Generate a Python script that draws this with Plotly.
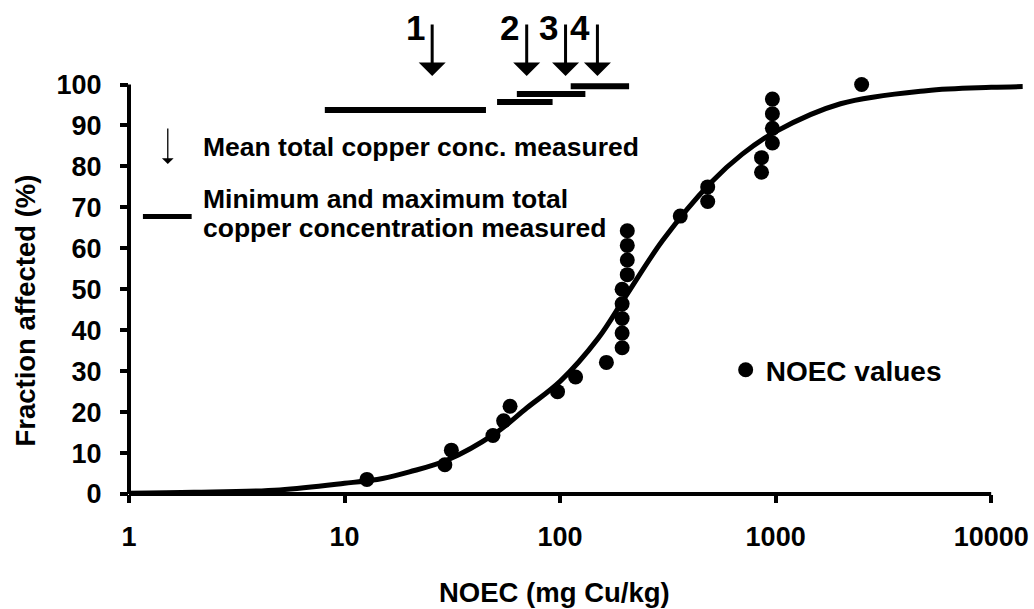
import math
import plotly.graph_objects as go

# ---------------- data ----------------
noec_x = [12.7, 29.2, 31.3, 48.8, 54.7, 58.6, 97.3, 118, 164, 194, 194, 194, 194, 194,
          205, 205, 205, 205, 361, 484, 484, 860, 860, 966, 966, 966, 966, 2506]
noec_y = [3.57, 7.14, 10.71, 14.29, 17.86, 21.43, 25.0, 28.57, 32.14, 35.71, 39.29, 42.86,
          46.43, 50.0, 53.57, 57.14, 60.71, 64.29, 67.86, 71.43, 75.0, 78.57, 82.14, 85.71,
          89.29, 92.86, 96.43, 100.0]

curve_x = [1, 2, 5, 10, 15, 20, 30, 50, 70, 100, 150, 200, 300, 500, 700, 1000, 2000, 5000, 10000, 14000]
curve_y = [0.2, 0.4, 1.0, 2.6, 3.8, 5.4, 8.3, 14.8, 21.0, 27.5, 38.0, 48.0, 62.0, 76.0, 83.0, 88.5,
           95.3, 98.5, 99.3, 99.5]

study_labels = ["1", "2", "3", "4"]
study_mean = [25.5, 70, 106, 149]
study_min = [8.1, 51, 63, 112]
study_max = [45.3, 92.3, 131, 209]
study_bar_y = [93.8, 95.7, 97.7, 99.6]

x_tick_vals = [1, 10, 100, 1000, 10000]
x_tick_text = ["1", "10", "100", "1000", "10000"]
y_tick_vals = [0, 10, 20, 30, 40, 50, 60, 70, 80, 90, 100]

# ---------------- geometry ----------------
W, H = 1034, 609
ML, MR, MT, MB = 129, 5, 10, 115
PW = W - ML - MR
PH = H - MT - MB
DEC = 216.75          # pixels per decade
YU = 4.095            # pixels per percent
x_range = [0, PW / DEC]
y_range = [0, PH / YU]


def pxx(xpix):
    """screen x pixel -> paper fraction"""
    return (xpix - ML) / PW


def pxy(ypix):
    """screen y pixel -> paper fraction"""
    return (H - MB - ypix) / PH


FONT = "Liberation Sans, Arial, sans-serif"
BLACK = "#000000"

fig = go.Figure()

# fitted curve
fig.add_trace(go.Scatter(x=curve_x, y=curve_y, mode="lines", line=dict(color=BLACK, width=5, shape="spline"),
                         showlegend=False, hoverinfo="skip"))

# min-max bars of measured concentrations
for lo, hi, yy in zip(study_min, study_max, study_bar_y):
    fig.add_trace(go.Scatter(x=[lo, hi], y=[yy, yy], mode="lines", line=dict(color=BLACK, width=6),
                             showlegend=False, hoverinfo="skip"))

# NOEC points
fig.add_trace(go.Scatter(x=noec_x, y=noec_y, mode="markers", name="NOEC values",
                         marker=dict(color=BLACK, size=15), showlegend=True))

annotations = []
# mean concentration arrows and labels
arrow_tip = 102.1
arrow_top = 115.0
for lab, mx in zip(study_labels, study_mean):
    lx = math.log10(mx)
    annotations.append(dict(x=lx, y=arrow_tip, xref="x", yref="y", ax=lx, ay=arrow_top, axref="x", ayref="y",
                            text="", showarrow=True, arrowhead=1, arrowwidth=3, arrowsize=1.5,
                            arrowcolor=BLACK, standoff=0))
    annotations.append(dict(x=lx, y=pxy(27.5), xref="x", yref="paper", text=lab, showarrow=False,
                            xshift=-17, xanchor="center", yanchor="middle",
                            font=dict(family=FONT, size=35, color=BLACK, weight="bold")))

# legend-like explanation texts
TXT = dict(family=FONT, size=26.5, color=BLACK, weight="bold")
TTL = dict(family=FONT, size=27.5, color=BLACK, weight="bold")
annotations.append(dict(x=pxx(168), y=pxy(164), xref="paper", yref="paper", ax=0, ay=-37,
                        text="", showarrow=True, arrowhead=1, arrowwidth=1.3, arrowsize=1.5,
                        arrowcolor=BLACK, standoff=0))
annotations.append(dict(x=pxx(201), y=pxy(147), xref="paper", yref="paper", text="Mean total copper conc. measured",
                        showarrow=False, xanchor="left", yanchor="middle", font=TXT))
annotations.append(dict(x=pxx(201), y=pxy(199), xref="paper", yref="paper", text="Minimum and maximum total",
                        showarrow=False, xanchor="left", yanchor="middle", font=TXT))
annotations.append(dict(x=pxx(201), y=pxy(228), xref="paper", yref="paper", text="copper concentration measured",
                        showarrow=False, xanchor="left", yanchor="middle", font=TXT))

# axis titles
annotations.append(dict(x=pxx(24), y=pxy(311), xref="paper", yref="paper", text="Fraction affected (%)",
                        textangle=-90, showarrow=False, xanchor="center", yanchor="middle", font=TTL))
annotations.append(dict(x=pxx(557), y=pxy(592), xref="paper", yref="paper", text="NOEC (mg Cu/kg)",
                        showarrow=False, xanchor="center", yanchor="middle", font=TTL))

x_end = (math.log10(x_tick_vals[-1]) - x_range[0]) / (x_range[1] - x_range[0])
y_end = (y_tick_vals[-1] - y_range[0]) / (y_range[1] - y_range[0])
shapes = [
    dict(type="line", xref="paper", yref="paper", x0=0, x1=x_end, y0=0, y1=0, line=dict(color=BLACK, width=4)),
    dict(type="line", xref="paper", yref="paper", x0=0, x1=0, y0=0, y1=y_end, line=dict(color=BLACK, width=4)),
    dict(type="line", xref="paper", yref="paper", x0=pxx(143), x1=pxx(192), y0=pxy(216.5), y1=pxy(216.5),
         line=dict(color=BLACK, width=5)),
]

fig.update_layout(
    width=W, height=H,
    margin=dict(l=ML, r=MR, t=MT, b=MB, pad=0),
    paper_bgcolor="white", plot_bgcolor="white",
    annotations=annotations, shapes=shapes,
    showlegend=True,
    legend=dict(x=pxx(729), y=pxy(370), xanchor="left", yanchor="middle", bgcolor="rgba(0,0,0,0)",
                font=dict(family=FONT, size=28, color=BLACK, weight="bold"), borderwidth=0),
    xaxis=dict(type="log", range=x_range, showgrid=False, zeroline=False, showline=False,
               tickmode="array", tickvals=x_tick_vals, ticktext=x_tick_text,
               ticks="outside", ticklen=8, tickwidth=4, tickcolor=BLACK,
               ticklabelstandoff=11,
               tickfont=dict(family=FONT, size=27, color=BLACK, weight="bold")),
    yaxis=dict(range=y_range, showgrid=False, zeroline=False, showline=False,
               tickmode="array", tickvals=y_tick_vals,
               ticks="outside", ticklen=8, tickwidth=4, tickcolor=BLACK,
               ticklabelstandoff=13,
               tickfont=dict(family=FONT, size=27, color=BLACK, weight="bold")),
)

# remove the browser's default page margin so the figure sits at the window origin
fig.write_html("out.html", config={"displayModeBar": False},
               post_script="document.body.style.margin='0';document.body.style.overflow='hidden';")
